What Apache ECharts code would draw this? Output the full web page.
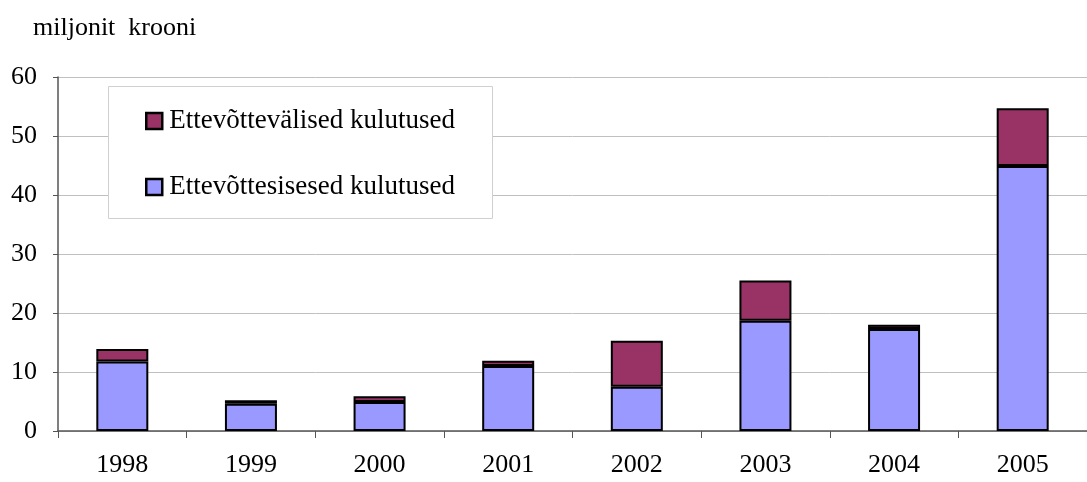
<!DOCTYPE html>
<html><head><meta charset="utf-8">
<script src="https://cdn.jsdelivr.net/npm/echarts@6/dist/echarts.min.js"></script>
<style>html,body{margin:0;padding:0;background:#fff}#c{width:1087px;height:482px}</style>
</head><body><div id="c"></div>
<script>
const years = ['1998','1999','2000','2001','2002','2003','2004','2005'];
const sisesed = [11.8, 4.6, 4.9, 11.0, 7.5, 18.7, 17.3, 44.9];
const valised = [2.1, 0.6, 1.0, 0.9, 7.8, 6.8, 0.7, 9.8];
const yTicks = [0, 10, 20, 30, 40, 50, 60];
const nameValised = 'Ettevõttevälised kulutused';
const nameSisesed = 'Ettevõttesisesed kulutused';
const font = '"Liberation Serif", "Times New Roman", serif';

const chart = echarts.init(document.getElementById('c'), null, {renderer: 'canvas'});
chart.setOption({
  animation: false,
  backgroundColor: '#fff',
  textStyle: {fontFamily: font},
  grid: {left: 58, top: 77, width: 1040, height: 354},
  graphic: [
    {type: 'text', left: 33, top: 15, style: {text: 'miljonit  krooni', font: '26px ' + font, fill: '#000'}},
    {type: 'rect', shape: {x: 108.5, y: 86.5, width: 384, height: 132}, style: {fill: '#fff', stroke: '#d0d0d0', lineWidth: 1}, z: 10}
  ],
  legend: {
    orient: 'vertical', left: 140, top: 102, itemGap: 38, z: 20,
    itemWidth: 16, itemHeight: 16, icon: 'rect',
    textStyle: {fontFamily: font, fontSize: 27, lineHeight: 28, color: '#000', padding: [0,0,0,2]},
    itemStyle: {borderColor: '#000', borderWidth: 2.5},
    data: [nameValised, nameSisesed]
  },
  xAxis: {
    type: 'category', data: years,
    axisLine: {lineStyle: {color: '#555', width: 1.5}},
    axisTick: {show: true, interval: 0, length: 7, lineStyle: {color: '#555'}},
    axisLabel: {fontFamily: font, fontSize: 26, color: '#000', margin: 21}
  },
  yAxis: {
    type: 'value', min: 0, max: 60, interval: 10,
    axisLine: {show: true, lineStyle: {color: '#555', width: 1.5}},
    axisTick: {show: true, length: 5, lineStyle: {color: '#555'}},
    axisLabel: {fontFamily: font, fontSize: 26, color: '#000', margin: 21,
      formatter: v => yTicks.includes(v) ? String(v) : ''},
    splitLine: {lineStyle: {color: '#c0c0c0', width: 1}}
  },
  series: [
    {name: nameSisesed, type: 'bar', stack: 't', data: sisesed, barWidth: 52,
     itemStyle: {color: '#9999ff', borderColor: '#000', borderWidth: 2}},
    {name: nameValised, type: 'bar', stack: 't', data: valised, barWidth: 52,
     itemStyle: {color: '#993366', borderColor: '#000', borderWidth: 2}}
  ]
});
</script></body></html>
